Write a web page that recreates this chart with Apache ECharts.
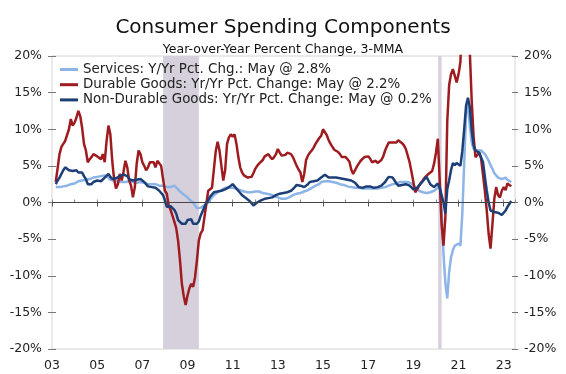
<!DOCTYPE html>
<html>
<head>
<meta charset="utf-8">
<script src="https://cdn.jsdelivr.net/npm/echarts@6/dist/echarts.min.js"></script>
<style>
html,body{margin:0;padding:0;background:#fff;}
#chart{width:566px;height:374px;}
</style>
</head>
<body>
<div id="chart"></div>
<script>
// Monthly data, first value = March 2003, last value = May 2023
const firstYear = 2003;
const firstMonth = 3;

const seriesNames = [
  'Services: Y/Yr Pct. Chg.: May @ 2.8%',
  'Durable Goods: Yr/Yr Pct. Change: May @ 2.2%',
  'Non-Durable Goods: Yr/Yr Pct. Change: May @ 0.2%'
];

const services = [
  2.1, 2.1, 2.1, 2.2, 2.2, 2.3, 2.3, 2.4, 2.5, 2.5,
  2.6, 2.8, 2.9, 3.0, 3.0, 3.0, 3.1, 3.1, 3.2, 3.3, 3.4, 3.5,
  3.5, 3.5, 3.6, 3.6, 3.7, 3.6, 3.4, 3.1, 3.0, 3.0, 3.0, 2.9,
  2.8, 2.8, 2.7, 2.8, 2.8, 2.9, 2.8, 2.8, 2.8, 2.7, 2.8, 2.8,
  2.7, 2.7, 2.6, 2.5, 2.5, 2.5, 2.5, 2.5, 2.4, 2.3, 2.3, 2.3,
  2.2, 2.1, 2.0, 2.1, 2.3, 2.3, 2.1, 1.8, 1.5, 1.3, 1.1, 0.9,
  0.7, 0.4, 0.3, 0.0, -0.4, -0.8, -0.9, -0.7, -0.6, -0.4, -0.2, 0.0,
  0.4, 0.7, 1.0, 1.2, 1.4, 1.6, 1.7, 1.9, 2.0, 2.1, 2.0, 2.0,
  2.0, 2.0, 1.9, 1.9, 1.7, 1.6, 1.5, 1.4, 1.4, 1.3, 1.4, 1.5,
  1.5, 1.6, 1.5, 1.4, 1.3, 1.2, 1.2, 1.1, 1.1, 1.0, 0.9, 0.8,
  0.7, 0.6, 0.5, 0.5, 0.5, 0.6, 0.7, 0.9, 1.0, 1.1, 1.2, 1.2,
  1.3, 1.4, 1.5, 1.6, 1.7, 1.9, 2.0, 2.2, 2.3, 2.4, 2.5, 2.8,
  2.8, 2.9, 2.9, 2.9, 2.8, 2.8, 2.8, 2.7, 2.6, 2.5, 2.5, 2.4,
  2.3, 2.2, 2.2, 2.1, 2.1, 2.0, 2.0, 2.0, 1.9, 1.9, 1.9, 1.9,
  1.9, 1.9, 1.9, 1.9, 1.9, 1.9, 2.0, 2.0, 2.1, 2.1, 2.2, 2.3,
  2.4, 2.5, 2.6, 2.6, 2.7, 2.8, 2.8, 2.8, 2.8, 2.8, 2.8, 2.6,
  2.3, 2.1, 1.9, 1.6, 1.4, 1.4, 1.3, 1.3, 1.3, 1.4, 1.5, 1.6,
  1.8, 2.0, 2.4, -1.0, -7.0, -11.0, -13.1, -9.5, -7.5, -6.5, -5.9, -5.7,
  -5.6, -5.9, -1.5, 5.2, 12.0, 13.4, 10.5, 8.2, 7.3, 7.1, 7.1, 7.1,
  7.1, 6.9, 6.6, 6.2, 5.7, 5.1, 4.6, 4.0, 3.7, 3.4, 3.3, 3.2,
  3.3, 3.4, 3.1, 3.0, 2.8
];

const durable = [
  2.8, 3.0, 6.6, 7.6, 8.0, 8.4, 8.6, 10.0, 11.4, 10.5,
  10.9, 11.6, 12.5, 11.8, 10.2, 8.0, 7.1, 5.5, 5.9, 6.2, 6.6, 6.4,
  6.3, 6.4, 5.9, 6.6, 5.5, 8.4, 10.5, 9.3, 5.7, 3.2, 1.9, 2.5,
  3.9, 3.0, 4.2, 5.7, 4.8, 3.0, 2.3, 0.7, 2.1, 5.3, 7.1, 6.6,
  5.5, 5.0, 4.4, 4.8, 5.5, 5.3, 5.5, 4.8, 5.7, 5.8, 5.0, 3.2,
  1.6, 1.2, -0.4, -1.0, -1.8, -2.6, -3.5, -5.2, -7.9, -11.1, -12.8, -14.0,
  -12.7, -11.7, -11.1, -11.5, -10.2, -7.9, -5.2, -4.2, -3.8, -2.0, -0.2, 1.6,
  1.6, 2.0, 4.5, 7.0, 8.3, 7.1, 5.0, 3.0, 4.4, 8.0, 8.9, 9.3,
  9.0, 9.3, 8.0, 6.2, 4.8, 4.1, 3.7, 3.6, 3.4, 3.5, 3.5, 4.0,
  4.6, 5.0, 5.3, 5.5, 5.8, 6.3, 6.5, 6.6, 6.2, 5.9, 6.2, 6.6,
  7.3, 6.8, 6.4, 6.2, 6.5, 6.8, 6.8, 6.6, 6.2, 5.6, 5.0, 4.5,
  4.1, 2.8, 3.9, 5.8, 6.4, 6.8, 7.1, 7.5, 8.0, 8.4, 8.8, 9.1,
  10.0, 9.8, 9.2, 8.5, 8.0, 7.6, 7.2, 7.1, 6.9, 6.6, 6.2, 6.2,
  6.2, 6.0, 5.6, 4.5, 3.9, 4.4, 4.9, 5.3, 5.7, 5.9, 6.2, 6.4,
  6.3, 6.0, 5.5, 5.6, 5.7, 5.4, 5.3, 5.8, 6.3, 7.1, 7.7, 8.2,
  8.2, 8.2, 8.4, 8.2, 8.5, 8.6, 8.1, 7.8, 7.3, 6.4, 5.5, 4.2,
  2.8, 1.4, 1.8, 2.3, 2.7, 3.0, 3.4, 3.6, 3.9, 4.0, 4.3, 5.3,
  6.8, 8.7, 3.0, -3.0, -5.9, -2.0, 11.0, 16.0, 17.5, 18.2, 18.4, 16.4,
  17.5, 19.2, 26.0, 36.0, 34.0, 27.0, 20.5, 13.9, 9.0, 6.2, 6.0, 6.8,
  6.0, 3.8, 1.6, -1.1, -4.3, -6.3, -3.0, 0.5, 2.1, 1.0, 0.7, 1.6,
  2.1, 1.7, 2.6, 2.4, 2.2
];

const nondurable = [
  2.5, 3.0, 3.4, 3.9, 4.4, 4.8, 4.6, 4.4, 4.3, 4.3,
  4.4, 4.4, 4.1, 4.1, 4.1, 3.6, 3.2, 2.5, 2.3, 2.5, 2.8, 3.0,
  3.0, 3.0, 2.9, 2.8, 3.4, 3.6, 3.9, 3.5, 3.2, 3.2, 3.3, 3.4,
  3.6, 3.7, 3.8, 3.9, 3.6, 3.2, 3.1, 3.0, 3.0, 3.1, 3.2, 3.2,
  3.0, 2.8, 2.5, 2.2, 2.2, 2.1, 2.1, 2.0, 1.8, 1.6, 1.3, 1.0,
  0.3, -0.6, -0.6, -0.5, -0.6, -1.0, -1.5, -2.4, -2.6, -2.9, -2.9, -2.9,
  -2.4, -2.3, -2.3, -2.9, -3.1, -2.9, -2.6, -1.8, -1.2, -0.6, 0.0, 0.3,
  0.8, 1.0, 1.4, 1.4, 1.5, 1.6, 1.6, 1.7, 1.8, 1.9, 2.1, 2.3,
  2.5, 2.3, 1.9, 1.6, 1.3, 1.0, 0.8, 0.6, 0.5, 0.2, 0.0, -0.4,
  -0.2, 0.0, 0.2, 0.3, 0.4, 0.5, 0.5, 0.6, 0.6, 0.7, 0.8, 1.0,
  1.0, 1.2, 1.2, 1.3, 1.4, 1.4, 1.5, 1.6, 1.8, 2.1, 2.4, 2.5,
  2.3, 2.2, 2.1, 2.3, 2.5, 2.8, 2.8, 2.9, 2.9, 3.0, 3.2, 3.4,
  3.6, 3.8, 3.7, 3.4, 3.4, 3.4, 3.4, 3.4, 3.3, 3.3, 3.2, 3.2,
  3.1, 3.1, 3.0, 3.0, 2.9, 2.7, 2.4, 2.1, 2.0, 2.0, 2.1, 2.2,
  2.1, 2.2, 2.1, 2.0, 2.0, 2.1, 2.1, 2.3, 2.5, 2.8, 3.2, 3.5,
  3.7, 3.4, 3.0, 2.6, 2.3, 2.3, 2.4, 2.5, 2.5, 2.4, 2.3, 2.2,
  1.8, 1.6, 2.0, 2.3, 2.6, 2.8, 3.2, 3.5, 3.0, 2.5, 2.3, 2.1,
  2.1, 2.6, 2.0, 1.0, 0.0, -1.5, 1.8, 3.0, 4.4, 5.4, 5.1, 5.4,
  5.2, 5.0, 7.0, 10.0, 13.2, 14.3, 13.0, 9.8, 7.8, 7.1, 7.0, 6.8,
  7.0, 5.5, 3.5, 1.6, 0.0, -1.1, -1.2, -1.3, -1.3, -1.4, -1.5, -1.7,
  -1.8, -1.1, -0.6, -0.2, 0.2
];

// Recession periods (decimal years)
const recessions = [[2007.917, 2009.5], [2020.1, 2020.25]];

// Axis range and ticks
const xMin = 2003, xMax = 2023.5;
const yMin = -20, yMax = 20, yStep = 5;

function toPairs(arr) {
  return arr.map((v, i) => [firstYear + (firstMonth - 1 + i) / 12, v]);
}

const FONT = 'DejaVu Sans';
const chart = echarts.init(document.getElementById('chart'), null, {renderer: 'canvas'});

const yLabelFmt = v => v + '%';
const yBase = {type: 'value', min: yMin, max: yMax, interval: yStep,
  axisLine: {show: false}, splitLine: {show: false}};

const option = {
  backgroundColor: '#ffffff',
  animation: false,
  title: [
    {text: 'Consumer Spending Components', left: 'center', top: 13,
     textStyle: {fontFamily: FONT, fontSize: 20, fontWeight: 'normal', color: '#111'}},
    {text: 'Year-over-Year Percent Change, 3-MMA', left: 'center', top: 38,
     textStyle: {fontFamily: FONT, fontSize: 12.5, fontWeight: 'normal', color: '#111'}}
  ],
  legend: {
    orient: 'vertical', left: 55, top: 58,
    itemWidth: 18, itemHeight: 3, itemGap: 2.2, icon: 'rect',
    textStyle: {fontFamily: FONT, fontSize: 13.4, color: '#222'},
    data: seriesNames
  },
  grid: {left: 52, right: 51, top: 56, bottom: 25, show: true,
    borderColor: '#d4d4d4', borderWidth: 1, backgroundColor: 'transparent'},
  xAxis: [
    {type: 'value', min: xMin, max: xMax, interval: 1, position: 'bottom',
     axisLine: {show: true, lineStyle: {color: '#555', width: 1}},
     axisTick: {show: true, inside: true, length: 3, lineStyle: {color: '#888'}},
     axisLabel: {show: false}, splitLine: {show: false}},
    {type: 'value', min: xMin, max: xMax, interval: 2, position: 'bottom',
     axisLine: {show: false},
     axisTick: {show: true, inside: false, length: 4, lineStyle: {color: '#555'}},
     axisLabel: {show: true, margin: 10, showMaxLabel: false,
       fontFamily: FONT, fontSize: 12.5, color: '#222',
       formatter: v => (Math.abs(v - Math.round(v)) < 1e-6) ? String(Math.round(v)).slice(2) : ''},
     splitLine: {show: false}}
  ],
  yAxis: [
    Object.assign({}, yBase, {position: 'left',
      axisTick: {show: true, inside: false, length: 4, lineStyle: {color: '#777'}},
      axisLabel: {formatter: yLabelFmt, margin: 10, fontFamily: FONT, fontSize: 12.5, color: '#222'}}),
    Object.assign({}, yBase, {position: 'left',
      axisTick: {show: true, inside: true, length: 4, lineStyle: {color: '#777'}},
      axisLabel: {show: false}}),
    Object.assign({}, yBase, {position: 'right',
      axisTick: {show: true, inside: false, length: 3, lineStyle: {color: '#777'}},
      axisLabel: {formatter: yLabelFmt, margin: 9, fontFamily: FONT, fontSize: 12.5, color: '#222'}}),
    Object.assign({}, yBase, {position: 'right',
      axisTick: {show: true, inside: true, length: 3, lineStyle: {color: '#777'}},
      axisLabel: {show: false}})
  ],
  series: [
    {name: seriesNames[0], type: 'line', data: toPairs(services),
     showSymbol: false, symbol: 'none', clip: true,
     lineStyle: {color: '#8cb4e6', width: 2.5}, itemStyle: {color: '#8cb4e6'},
     markArea: {silent: true, itemStyle: {color: '#d5d0db'},
       data: recessions.map(r => [{xAxis: r[0]}, {xAxis: r[1]}])},
     markLine: {silent: true, symbol: ['none', 'none'], label: {show: false},
       lineStyle: {color: '#444', width: 1, type: 'solid'},
       data: [{yAxis: 0}]}},
    {name: seriesNames[1], type: 'line', data: toPairs(durable),
     showSymbol: false, symbol: 'none', clip: true,
     lineStyle: {color: '#9e1c20', width: 2.5}, itemStyle: {color: '#9e1c20'}},
    {name: seriesNames[2], type: 'line', data: toPairs(nondurable),
     showSymbol: false, symbol: 'none', clip: true,
     lineStyle: {color: '#1d3f77', width: 2.5}, itemStyle: {color: '#1d3f77'}}
  ]
};
chart.setOption(option);
</script>
</body>
</html>
